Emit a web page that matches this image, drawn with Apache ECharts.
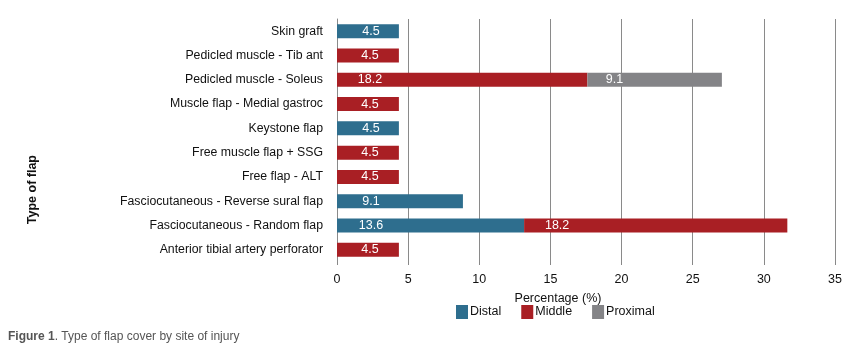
<!DOCTYPE html>
<html>
<head>
<meta charset="utf-8">
<script src="https://cdn.jsdelivr.net/npm/echarts@6/dist/echarts.min.js"></script>
<style>
  html, body { margin: 0; padding: 0; background: #fff; }
  #chart { width: 855px; height: 349px; }
</style>
</head>
<body>
<div id="chart"></div>
<script>
// categories, top to bottom
var flapTypes = [
    "Skin graft",
    "Pedicled muscle - Tib ant",
    "Pedicled muscle - Soleus",
    "Muscle flap - Medial gastroc",
    "Keystone flap",
    "Free muscle flap + SSG",
    "Free flap - ALT",
    "Fasciocutaneous - Reverse sural flap",
    "Fasciocutaneous - Random flap",
    "Anterior tibial artery perforator"
];

// bar lengths as drawn
var distalVals   = [4.35, null, null, null, 4.35, null, null, 8.85, 13.15, null];
var middleVals   = [null, 4.35, 17.6, 4.35, null, 4.35, 4.35, null, 18.5, 4.35];
var proximalVals = [null, null, 9.45, null, null, null, null, null, null, null];

// printed labels on the bars
var distalLabels   = ["4.5", "", "", "", "4.5", "", "", "9.1", "13.6", ""];
var middleLabels   = ["", "4.5", "18.2", "4.5", "", "4.5", "4.5", "", "18.2", "4.5"];
var proximalLabels = ["", "", "9.1", "", "", "", "", "", "", ""];

var xTicks = [0, 5, 10, 15, 20, 25, 30, 35];

var chart = echarts.init(document.getElementById("chart"));
var fontFam = "Liberation Sans, Arial, sans-serif";

function barLabel(labels, offset) {
    return {
        show: true,
        position: [offset, "50%"],
        align: "center",
        verticalAlign: "middle",
        color: "#fff",
        fontSize: 12.5,
        fontFamily: fontFam,
        formatter: function (p) { return labels[p.dataIndex]; }
    };
}

var opt = {
    animation: false,
    textStyle: { fontFamily: fontFam },
    grid: { left: 337, right: 20, top: 19, bottom: 87, containLabel: false },
    legend: {
        left: 456,
        top: 305,
        padding: 0,
        itemWidth: 12,
        itemHeight: 14,
        itemGap: 20,
        icon: "rect",
        textStyle: { fontSize: 12.5, color: "#111", fontFamily: fontFam, padding: [0, 0, 0, -3] },
        data: ["Distal", "Middle", "Proximal"]
    },
    xAxis: {
        type: "value",
        min: xTicks[0],
        max: xTicks[xTicks.length - 1],
        interval: 5,
        name: "Percentage (%)",
        nameLocation: "middle",
        nameGap: 30,
        nameTextStyle: { fontSize: 12.5, color: "#111", padding: [0, 56, 0, 0] },
        axisLine: { show: false },
        axisTick: { show: true, length: 3, lineStyle: { color: "#888" } },
        axisLabel: { fontSize: 12.5, color: "#111", margin: 11 },
        splitLine: { show: true, lineStyle: { color: "#8a8a8a", width: 1 } }
    },
    yAxis: {
        type: "category",
        inverse: true,
        data: flapTypes,
        axisLine: { show: true, lineStyle: { color: "#8a8a8a" } },
        axisTick: { show: false },
        axisLabel: { fontSize: 12.3, color: "#111", margin: 14 }
    },
    graphic: [
        {
            type: "text",
            left: 26,
            top: 155,
            rotation: Math.PI / 2,
            style: { text: "Type of flap", font: "bold 12.5px " + fontFam, fill: "#111" }
        },
        {
            type: "text",
            left: 8,
            top: 331,
            style: {
                text: "{b|Figure 1}. Type of flap cover by site of injury",
                font: "12px " + fontFam,
                fill: "#555",
                rich: { b: { fontWeight: "bold", fontSize: 12, fill: "#555" } }
            }
        }
    ],
    series: [
        {
            name: "Distal", type: "bar", stack: "s", barWidth: 14,
            itemStyle: { color: "#2e6e8e" },
            label: barLabel(distalLabels, 34),
            data: distalVals
        },
        {
            name: "Middle", type: "bar", stack: "s", barWidth: 14,
            itemStyle: { color: "#a91f24" },
            label: barLabel(middleLabels, 33),
            data: middleVals
        },
        {
            name: "Proximal", type: "bar", stack: "s", barWidth: 14,
            itemStyle: { color: "#848487" },
            label: barLabel(proximalLabels, 27),
            data: proximalVals
        }
    ]
};

chart.setOption(opt);
</script>
</body>
</html>
